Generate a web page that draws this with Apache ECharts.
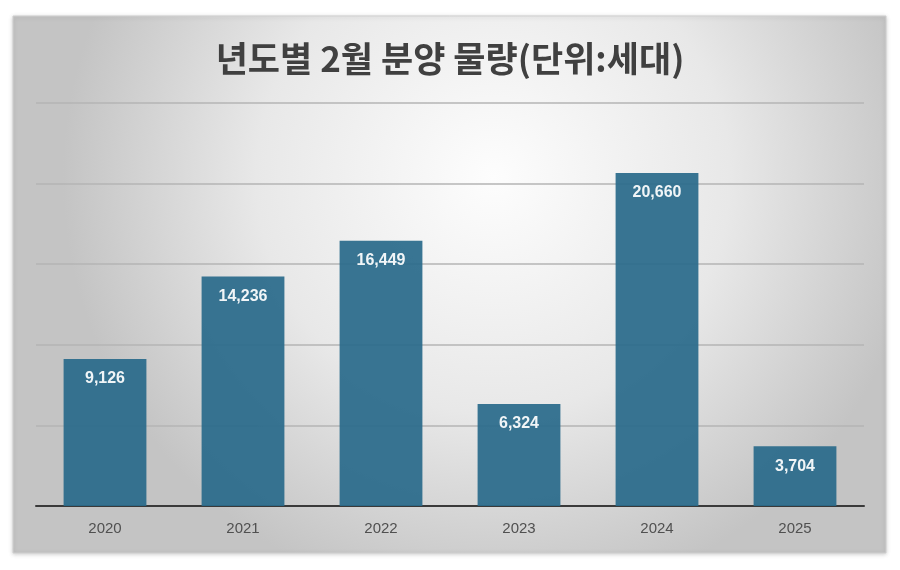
<!DOCTYPE html>
<html>
<head>
<meta charset="utf-8">
<script src="https://cdn.jsdelivr.net/npm/echarts@6/dist/echarts.min.js"></script>
<style>
  html, body { margin: 0; padding: 0; background: #fff; }
  #main { width: 900px; height: 570px; }
</style>
</head>
<body>
<div id="main"></div>
<script>
// 데이터
var years = ['2020', '2021', '2022', '2023', '2024', '2025'];
var units = [9126, 14236, 16449, 6324, 20660, 3704];
var yTicks = [0, 5000, 10000, 15000, 20000, 25000];

var myChart = echarts.init(document.getElementById('main'));

var option = {
  backgroundColor: '#ffffff',
  graphic: [
    {
      type: 'rect',
      z: -10,
      shape: { x: 13, y: 16, width: 873, height: 537 },
      style: {
        fill: {
          type: 'radial', x: 0.55, y: 0.3, r: 0.8,
          colorStops: [
            { offset: 0, color: '#fdfdfd' },
            { offset: 0.55, color: '#e8e8e8' },
            { offset: 1, color: '#c4c4c4' }
          ]
        },
        stroke: '#cfcfcf',
        lineWidth: 1,
        shadowBlur: 4,
        shadowColor: 'rgba(0,0,0,0.18)',
        shadowOffsetY: 1
      }
    }
  ],
  title: {
    text: '년도별 2월 분양 물량(단위:세대)',
    left: 'center',
    top: 36,
    textStyle: {
      fontFamily: 'Noto Sans CJK KR',
      fontSize: 35,
      fontWeight: 'bold',
      color: '#404040'
    }
  },
  grid: { left: 36, right: 36, top: 103, bottom: 64 },
  xAxis: {
    type: 'category',
    data: years,
    axisLine: { lineStyle: { color: '#3a3a3a', width: 2 } },
    axisTick: { show: false },
    axisLabel: {
      color: '#505050',
      fontSize: 15,
      margin: 15,
      fontFamily: 'Liberation Sans'
    }
  },
  yAxis: {
    type: 'value',
    min: yTicks[0],
    max: yTicks[yTicks.length - 1],
    interval: yTicks[1] - yTicks[0],
    axisLine: { show: false },
    axisTick: { show: false },
    axisLabel: { show: false },
    splitLine: { lineStyle: { color: '#b4b4b4', width: 1.5 } }
  },
  series: [
    {
      name: '분양 물량',
      type: 'bar',
      data: units,
      barWidth: '60%',
      itemStyle: { color: '#2a6b8b', opacity: 0.93 },
      label: {
        show: true,
        position: 'insideTop',
        distance: 12,
        color: '#ffffff',
        fontSize: 16,
        fontWeight: 'bold',
        fontFamily: 'Liberation Sans',
        formatter: function (p) { return p.value.toLocaleString('en-US'); }
      }
    }
  ]
};

myChart.setOption(option);
</script>
</body>
</html>
